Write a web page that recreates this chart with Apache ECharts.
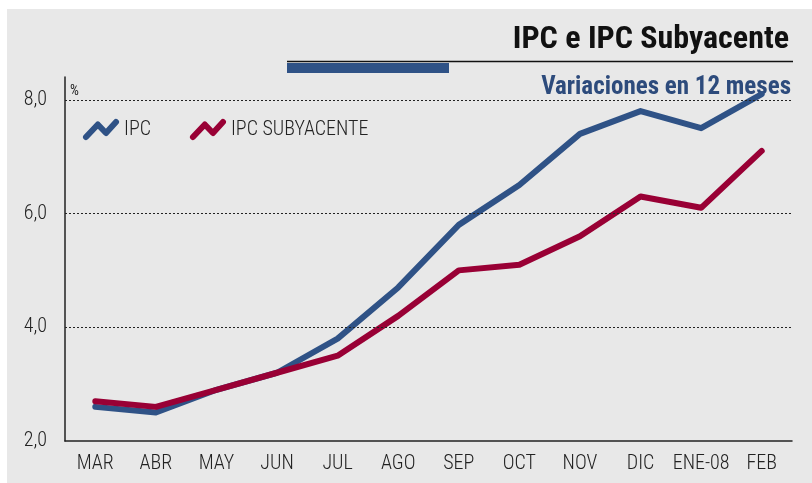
<!DOCTYPE html>
<html>
<head>
<meta charset="utf-8">
<script src="https://cdn.jsdelivr.net/npm/echarts@6/dist/echarts.min.js"></script>
<style>
html,body{margin:0;padding:0;background:#ffffff;}
#chart{width:812px;height:483px;}
</style>
</head>
<body>
<div id="chart"></div>
<script>
const categories = ['MAR','ABR','MAY','JUN','JUL','AGO','SEP','OCT','NOV','DIC','ENE-08','FEB'];
const ipc = [2.6, 2.5, 2.9, 3.2, 3.8, 4.7, 5.8, 6.5, 7.4, 7.8, 7.5, 8.1];
const ipcSub = [2.7, 2.6, 2.9, 3.2, 3.5, 4.2, 5.0, 5.1, 5.6, 6.3, 6.1, 7.1];
const gridValues = [4, 6, 8];
const seriesNames = ['IPC', 'IPC SUBYACENTE'];

const BLUE = '#2f5286';
const RED = '#990035';
const FONT = "'Roboto Condensed', 'DejaVu Sans Condensed', sans-serif";
const ICON = 'path://M0,15 L13,2.5 L22,11 L33,0';

const chart = echarts.init(document.getElementById('chart'), null, {renderer: 'canvas'});
chart.setOption({
  backgroundColor: '#ffffff',
  animation: false,
  textStyle: {fontFamily: FONT},
  graphic: [
    {type: 'rect', z: -100, silent: true, shape: {x: 7, y: 9, width: 805, height: 474}, style: {fill: '#e8e8e8'}},
    {type: 'line', z: 1, silent: true, shape: {x1: 287, y1: 61.5, x2: 793, y2: 61.5}, style: {stroke: '#111111', lineWidth: 1.5}},
    {type: 'rect', z: 1, silent: true, shape: {x: 287, y: 63, width: 162, height: 10}, style: {fill: BLUE}},
    {type: 'text', z: 1, silent: true, x: 789, y: 40, style: {text: 'IPC e IPC Subyacente', fontFamily: FONT, fontSize: 32, fontWeight: 'bold', fill: '#111111', align: 'right', verticalAlign: 'middle'}},
    {type: 'text', z: 1, silent: true, x: 791, y: 88, style: {text: 'Variaciones en 12 meses', fontFamily: FONT, fontSize: 25, fontWeight: 'bold', fill: '#2d4b7c', align: 'right', verticalAlign: 'middle'}},
    {type: 'text', z: 1, silent: true, x: 70, y: 91, style: {text: '%', fontFamily: FONT, fontSize: 14, fill: '#222222', verticalAlign: 'middle'}}
  ],
  legend: {
    left: 78, top: 114, orient: 'horizontal',
    itemWidth: 30, itemHeight: 15, itemGap: 39,
    symbolKeepAspect: false,
    textStyle: {fontFamily: FONT, fontSize: 20, fontWeight: 300, color: '#222222', padding: [0, 0, 0, 3]},
    data: [
      {name: seriesNames[0], icon: ICON, itemStyle: {color: 'rgba(0,0,0,0)', borderColor: BLUE, borderWidth: 6, borderCap: 'round', borderJoin: 'round'}},
      {name: seriesNames[1], icon: ICON, itemStyle: {color: 'rgba(0,0,0,0)', borderColor: RED, borderWidth: 6, borderCap: 'round', borderJoin: 'round'}}
    ]
  },
  grid: {left: 65, right: 20, top: 77, bottom: 42, containLabel: false},
  xAxis: {
    type: 'category', data: categories, boundaryGap: true,
    axisLine: {lineStyle: {color: '#222222', width: 1.5}},
    axisTick: {show: false},
    axisLabel: {fontFamily: FONT, fontSize: 20, fontWeight: 300, color: '#222222', margin: 13, interval: 0}
  },
  yAxis: {
    type: 'value', min: 2, max: 8.4, interval: 2,
    axisLine: {show: true, lineStyle: {color: '#222222', width: 1.5}},
    axisTick: {show: false},
    splitLine: {show: false},
    axisLabel: {fontFamily: FONT, fontSize: 20, fontWeight: 300, color: '#222222', margin: 18, showMaxLabel: false,
      formatter: v => v.toFixed(1).replace('.', ',')}
  },
  series: [
    {name: seriesNames[0], type: 'line', data: ipc, symbol: 'none', smooth: false,
     lineStyle: {color: BLUE, width: 6, cap: 'round', join: 'round'}, itemStyle: {color: BLUE}, z: 3,
     markLine: {silent: true, symbol: 'none', label: {show: false},
       lineStyle: {color: '#222222', width: 1, type: [2, 2]},
       data: gridValues.map(v => ({yAxis: v}))}},
    {name: seriesNames[1], type: 'line', data: ipcSub, symbol: 'none', smooth: false,
     lineStyle: {color: RED, width: 6, cap: 'round', join: 'round'}, itemStyle: {color: RED}, z: 4}
  ]
});
</script>
</body>
</html>
